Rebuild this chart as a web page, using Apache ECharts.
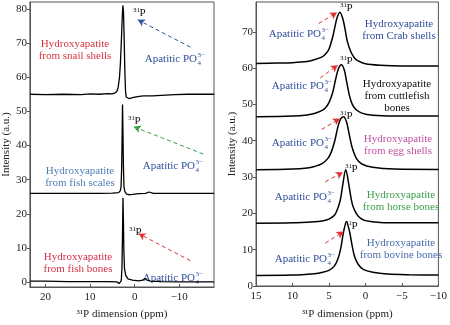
<!DOCTYPE html>
<html><head><meta charset="utf-8">
<script src="https://cdn.jsdelivr.net/npm/echarts@6/dist/echarts.min.js"></script>
<style>html,body{margin:0;padding:0;background:#fff}#c{width:450px;height:325px}</style>
</head><body><div id="c"></div>
<script>
// ---- Left panel spectra (ppm, intensity) ----
const snailShells = [[23.5,55.0],[20,54.9],[16,55.0],[12,54.9],[10,55.1],[8,55.0],[6,55.2],[5,55.1],[4.5,55.3],[4.0,55.8],[3.7,57.0],[3.4,60.0],[3.2,64.0],[3.0,70.0],[2.8,77.0],[2.65,81.0],[2.5,79.0],[2.35,71.0],[2.2,62.0],[2.05,56.0],[1.9,54.2],[1.6,53.7],[1.2,53.7],[0.5,54.0],[-1,54.4],[-2,54.5],[-4,54.5],[-6,54.7],[-9,54.9],[-12,55.0],[-17.8,55.0]];
const fishScales = [[23.5,26.0],[15,26.0],[8,26.0],[5,26.1],[3.6,26.2],[3.2,26.8],[3.05,28.0],[2.92,33.0],[2.82,42.0],[2.72,52.0],[2.62,44.0],[2.52,34.0],[2.4,28.0],[2.2,26.5],[1.8,25.8],[1.3,25.6],[0.5,25.7],[-1,25.9],[-2.5,26.0],[-3.2,26.4],[-4.2,26.0],[-8,26.0],[-17.8,26.0]];
const fishBones = [[23.5,0.3],[20,0.3],[15,0.2],[10,0.2],[6,0.2],[4,0.1],[3.5,-0.4],[3.2,-0.3],[3.0,0.5],[2.85,4.0],[2.72,14.0],[2.62,24.7],[2.52,18.0],[2.42,9.0],[2.28,4.0],[2.0,2.0],[1.5,1.0],[0.5,0.6],[-1,0.4],[-1.8,0.6],[-2.3,1.1],[-2.8,0.6],[-3.5,0.3],[-6,0.2],[-10,0.1],[-17.8,0.1]];
// ---- Right panel spectra ----
const crabShells = [[15,61.3],[12,61.4],[10,61.5],[8,61.8],[7,62.3],[6,63.0],[5.5,63.8],[5,65.2],[4.5,68.5],[4.2,71.2],[3.9,73.8],[3.5,75.4],[3.1,73.6],[2.8,70.8],[2.5,67.5],[2.0,64.5],[1.5,62.8],[1.0,62.0],[0,61.2],[-2,60.8],[-5,60.6],[-10,60.6]];
const cuttlefishBones = [[15,46.6],[10,46.8],[8,47.1],[7,47.5],[6,48.3],[5.5,49.0],[5,50.5],[4.5,53.2],[4.1,56.8],[3.7,59.8],[3.3,60.9],[2.9,59.5],[2.6,56.5],[2.2,52.5],[1.8,50.0],[1.3,48.6],[0.5,47.6],[-1,47.0],[-4,46.8],[-10,46.8]];
const eggShells = [[15,32.0],[10,32.2],[8,32.5],[7,32.9],[6,33.6],[5.2,35.0],[4.7,36.8],[4.2,40.0],[3.8,43.6],[3.4,46.0],[3.0,46.6],[2.6,45.2],[2.2,41.5],[1.8,38.0],[1.2,35.0],[0.5,33.6],[-1,32.7],[-4,32.2],[-10,32.1]];
const horseBones = [[15,17.3],[10,17.4],[7,17.7],[6,17.9],[5,18.4],[4.2,19.6],[3.7,21.9],[3.4,24.1],[3.1,28.0],[2.7,32.1],[2.3,28.2],[1.95,23.9],[1.7,21.9],[1.2,19.8],[0.7,18.7],[0,18.0],[-2,17.5],[-5,17.4],[-10,17.4]];
const bovineBones = [[15,2.9],[10,3.0],[7,3.4],[6,3.7],[5,4.3],[4.3,5.4],[3.8,7.3],[3.4,10.2],[3.0,14.9],[2.6,17.7],[2.2,15.2],[1.85,11.4],[1.5,8.2],[1.0,6.0],[0.3,4.6],[-1,3.8],[-3,3.3],[-6,3.1],[-10,3.0]];
// ---- Tick values ----
const leftXTicks = [20,10,0,-10];
const leftYTicks = [0,10,20,30,40,50,60,70,80];
const rightXTicks = [15,10,5,0,-5,-10];
const rightYTicks = [0,10,20,30,40,50,60,70];
// ---- Arrows (data coords): [tail, head] ----
const leftArrows = [
  [[-12.5,68.8],[-0.7,76.8],'#3050a0'],
  [[-15.4,37.5],[0.2,45.5],'#30a040'],
  [[-12.5,6.3],[-0.9,14.2],'#e03030']
];
const rightArrows = [
  [[6.4,72.3],[3.9,75.3],'#e03030'],
  [[6.2,57.3],[3.8,60.8],'#e03030'],
  [[6.0,43.1],[3.5,46.1],'#e03030'],
  [[5.5,28.7],[3.1,31.3],'#e03030'],
  [[5.5,11.8],[3.0,15.0],'#e03030']
];
// ---- Labels ----
const sampleLabels = [
  {t:'Hydroxyapatite\nfrom snail shells', x:75, y:50, c:'#d8333f'},
  {t:'Hydroxyapatite\nfrom fish scales', x:80, y:177, c:'#4f7fb8'},
  {t:'Hydroxyapatite\nfrom fish bones', x:78, y:263.5, c:'#d6304a'},
  {t:'Hydroxyapatite\nfrom Crab shells', x:399, y:30.5, c:'#2f4f9a'},
  {t:'Hydroxyapatite\nfrom cuttlefish\nbones', x:397, y:96, c:'#111'},
  {t:'Hydroxyapatite\nfrom egg shells', x:398, y:145.5, c:'#c050a0'},
  {t:'Hydroxyapatite\nfrom horse bones', x:401, y:201, c:'#3aa04a'},
  {t:'Hydroxyapatite\nfrom bovine bones', x:401, y:249, c:'#4a6aaa'}
];
const p31Labels = [[133,12],[128,120],[129,231],[340,7],[340,60],[340,115],[345,168],[345,225]];
const apatiticLabels = [[197,59],[195,166],[195,278],[321,34],[324,86],[324,143],[327,197],[327,259]];

const FONT = '"Liberation Serif","DejaVu Serif",serif';
const minus = v => v < 0 ? '\u2212' + Math.abs(v) : String(v);

function arrowSeries(arr, xi){
  return {
    type:'line', xAxisIndex:xi, yAxisIndex:xi, data:[], silent:true,
    markLine:{
      silent:true, symbol:['none','arrow'], symbolSize:[6,7], animation:false,
      label:{show:false},
      data: arr.map(a => [{coord:a[0], lineStyle:{color:a[2], type:[4,3], width:1}}, {coord:a[1]}])
    }
  };
}
function curve(d, xi){
  return {type:'line', xAxisIndex:xi, yAxisIndex:xi, data:d, symbol:'none', smooth:xi===1?0.3:false,
    lineStyle:{color:'#000', width:xi===1?1.5:1.3}, silent:true};
}
const axisCommon = {
  splitLine:{show:false},
  nameTextStyle:{fontFamily:FONT, fontSize:11, color:'#222'}
};
function xAx(gi, min, max, ticks){
  return Object.assign({}, axisCommon, {
    type:'value', gridIndex:gi, min:min, max:max, inverse:true, position:'bottom',
    axisLine:{show:true, onZero:false, lineStyle:{color:'#555', width:1}},
    name:'\u00b3\u00b9P dimension (ppm)', nameLocation:'middle', nameGap:gi===0?22:23,
    axisTick:{show:true, inside:true, length:3, customValues:ticks, lineStyle:{color:'#555'}},
    axisLabel:{customValues:ticks, formatter:minus, fontFamily:FONT, fontSize:11, color:'#222', margin:5}
  });
}
function yAx(gi, min, max, ticks, gap){
  return Object.assign({}, axisCommon, {
    type:'value', gridIndex:gi, min:min, max:max, position:'left',
    axisLine:{show:true, onZero:false, lineStyle:{color:'#555', width:1}},
    name:'Intensity (a.u.)', nameLocation:'middle', nameGap:gap, nameRotate:90,
    axisTick:{show:true, inside:false, length:3, customValues:ticks, lineStyle:{color:'#555'}},
    axisLabel:{customValues:ticks, fontFamily:FONT, fontSize:11, color:'#222', margin:3}
  });
}

const graphics = [];
sampleLabels.forEach(l => graphics.push({type:'text', x:l.x, y:l.y, silent:true,
  style:{text:l.t, fill:l.c, fontFamily:FONT, fontSize:11, textAlign:'center', textVerticalAlign:'middle', lineHeight:12}}));
p31Labels.forEach(p => {
  graphics.push({type:'text', x:p[0], y:p[1]-2, silent:true, style:{text:'31', fill:'#111', fontFamily:FONT, fontSize:7, textAlign:'left', textVerticalAlign:'middle'}});
  graphics.push({type:'text', x:p[0]+6.5, y:p[1]+1, silent:true, style:{text:'P', fill:'#111', fontFamily:FONT, fontSize:11, textAlign:'left', textVerticalAlign:'middle'}});
});
apatiticLabels.forEach(p => {
  graphics.push({type:'text', x:p[0], y:p[1], silent:true, style:{text:'Apatitic PO', fill:'#2f4f9a', fontFamily:FONT, fontSize:11, textAlign:'right', textVerticalAlign:'middle'}});
  graphics.push({type:'text', x:p[0]+0.5, y:p[1]-4, silent:true, style:{text:'3\u2212', fill:'#2f4f9a', fontFamily:FONT, fontSize:7, textAlign:'left', textVerticalAlign:'middle'}});
  graphics.push({type:'text', x:p[0]+0.5, y:p[1]+4, silent:true, style:{text:'4', fill:'#2f4f9a', fontFamily:FONT, fontSize:7, textAlign:'left', textVerticalAlign:'middle'}});
});

const chart = echarts.init(document.getElementById('c'), null, {renderer:'canvas'});
chart.setOption({
  animation:false,
  backgroundColor:'#fff',
  grid:[
    {left:26, top:2, width:188, height:293, show:true, borderColor:'#555', borderWidth:1, containLabel:false},
    {left:256, top:2, width:187, height:292, show:true, borderColor:'#555', borderWidth:1, containLabel:false}
  ],
  xAxis:[ xAx(0, -17.8, 23.5, leftXTicks), xAx(1, -10, 15, rightXTicks) ],
  yAxis:[ yAx(0, -1.4, 82, leftYTicks, 14), yAx(1, 0, 78.2, rightYTicks, 18) ],
  series:[
    curve(snailShells,0), curve(fishScales,0), curve(fishBones,0),
    curve(crabShells,1), curve(cuttlefishBones,1), curve(eggShells,1), curve(horseBones,1), curve(bovineBones,1),
    arrowSeries(leftArrows,0), arrowSeries(rightArrows,1)
  ],
  graphic: graphics
});
</script></body></html>
